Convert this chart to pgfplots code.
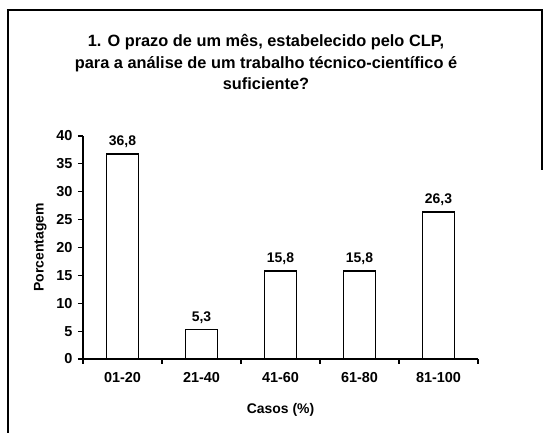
\documentclass[border=0pt]{standalone}
\usepackage{fontspec}
\setmainfont{Liberation Sans}
\usepackage{pgfplots}
\pgfplotsset{compat=1.18}

\begin{document}
\begin{tikzpicture}
\begin{axis}[
  scale only axis,
  width=395bp, height=223bp,
  xmin=0, xmax=5, ymin=0, ymax=40,
  clip=false,
  axis x line=bottom, axis y line=left,
  axis line style={-, line width=1.4bp},
  tick style={line width=1.2bp, black},
  tick align=outside,
  xtick={0.5,1.5,2.5,3.5,4.5},
  xticklabels={01-20,21-40,41-60,61-80,81-100},
  major x tick style={draw=none},
  minor xtick={0,1,2,3,4,5},
  minor tick length=5bp,
  major tick length=5bp,
  ytick={0,5,...,40},
  ticklabel style={font=\bfseries\fontsize{14.5}{16}\selectfont},
  /pgf/number format/assume math mode=true,
  xticklabel style={yshift=-5bp},
  yticklabel style={xshift=-2bp},
  xlabel={Casos (\%)},
  ylabel={Porcentagem},
  label style={font=\bfseries\fontsize{14}{16}\selectfont},
  xlabel style={yshift=-14bp},
  ylabel style={yshift=3bp},
  ybar, bar width=32bp, bar shift=0pt,
  nodes near coords,
  nodes near coords align={vertical},
  every node near coord/.append style={font=\bfseries\fontsize{14}{16}\selectfont, yshift=2bp,
    /pgf/number format/fixed, /pgf/number format/precision=1,
    /pgf/number format/fixed zerofill, /pgf/number format/use comma,
    /pgf/number format/assume math mode=true},
]
\addplot[fill=white, draw=black, line width=1.8bp] coordinates {
  (0.5,36.8) (1.5,5.3) (2.5,15.8) (3.5,15.8) (4.5,26.3)
};
\end{axis}
% axis origin sits at reference pixel (83,359); pixel (x,y) -> (x-83, 359-y)
\begin{scope}[x=1bp,y=1bp]
\path (-83,-74) rectangle (461,359);
% scanned frame: left, top, right (short)
\draw[line width=2bp] (-75,-74) -- (-75,350);
\draw[line width=2bp] (-76,349) -- (459,349) -- (459,189);
\node[align=center, font=\bfseries\fontsize{16.4}{22}\selectfont] at (183,297)
  {1. O prazo de um mês, estabelecido pelo CLP,\\
   para a análise de um trabalho técnico-científico é\\
   suficiente?};
\end{scope}
\end{tikzpicture}
\end{document}
